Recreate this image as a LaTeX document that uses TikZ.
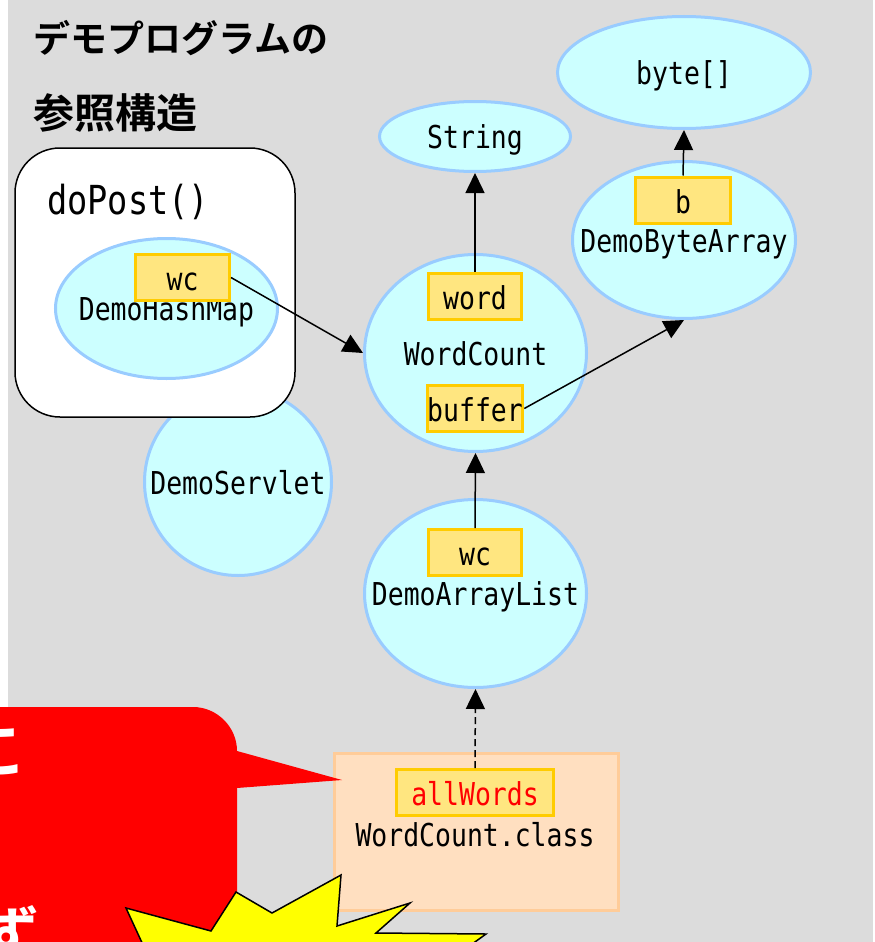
\documentclass[tikz,border=0pt]{standalone}
\usepackage{fontspec}
\setmainfont{DejaVu Sans Mono}[FakeStretch=0.84]
\newfontfamily\jpbold{Noto Sans CJK JP Bold}
\usetikzlibrary{shapes.geometric,arrows.meta}

\definecolor{bggray}{RGB}{220,220,220}
\definecolor{objfill}{RGB}{204,255,255}
\definecolor{objline}{RGB}{153,204,255}
\definecolor{fieldfill}{RGB}{255,230,128}
\definecolor{fieldline}{RGB}{255,204,0}
\definecolor{classfill}{RGB}{255,223,192}
\definecolor{classline}{RGB}{255,204,153}
\definecolor{alertred}{RGB}{255,0,0}
\definecolor{burst}{RGB}{255,255,0}

\tikzset{
  obj/.style={ellipse, draw=objline, fill=objfill, line width=3pt, inner sep=0pt},
  objtext/.style={inner sep=0pt, text height=24pt, text depth=0pt,
    font=\fontsize{31.5}{36}\selectfont},
  field/.style={rectangle, draw=fieldline, fill=fieldfill, line width=3pt,
    inner sep=0pt, minimum height=46pt, text height=26pt, text depth=0pt,
    font=\fontsize{31.5}{36}\selectfont},
  ref/.style={line width=1.5pt, -{Triangle[length=20pt,width=19pt]}},
  jptitle/.style={inner sep=0pt, anchor=west},
}

\begin{document}
\begin{tikzpicture}[x=1pt,y=-1pt]
\useasboundingbox (0,0) rectangle (875,942);
% page background
\fill[white] (0,0) rectangle (875,942);
\fill[bggray] (8,0) rectangle (873,942);

% title
\node[jptitle, font=\jpbold\fontsize{37}{40}\selectfont] (title1) at (33,38.5) {デモプログラムの};
\node[jptitle, font=\jpbold\fontsize{41}{44}\selectfont] (title2) at (33,113.5) {参照構造};

% objects
\node[obj, circle, minimum size=187pt] (servlet) at (238,482) {};
\node[objtext] (servlet-t) at (servlet) {DemoServlet};

% doPost() frame
\node[draw, fill=white, line width=1.5pt, rounded corners=45pt,
      minimum width=280pt, minimum height=269pt] (dopost) at (155,282.5) {};
\node[inner sep=0pt, anchor=base west, font=\fontsize{40}{44}\selectfont] (dopost-t) at (47,214) {doPost()};

\node[obj, minimum width=222pt, minimum height=140pt] (hm) at (166.5,308.5) {};
\node[objtext] (hm-t) at (hm) {DemoHashMap};
\node[field, minimum width=94pt] (hmwc) at (182.5,277.5) {wc};

\node[obj, minimum width=191pt, minimum height=70pt] (str) at (475,136.5) {};
\node[objtext] (str-t) at (str) {String};

\node[obj, minimum width=253pt, minimum height=112pt] (bytes) at (684,72.5) {};
\node[objtext] (bytes-t) at (bytes) {byte[]};

\node[obj, minimum width=223pt, minimum height=157pt] (dba) at (684,240) {};
\node[objtext] (dba-t) at (dba) {DemoByteArray};
\node[field, minimum width=95pt] (b) at (683,200) {b};

\node[obj, minimum width=222pt, minimum height=197pt] (wcnt) at (475.5,353) {};
\node[objtext] (wcnt-t) at (wcnt) {WordCount};
\node[field, minimum width=93pt] (word) at (475,296) {word};
\node[field, minimum width=93pt] (buffer) at (475,408.5) {buffer};

\node[obj, minimum width=222pt, minimum height=188pt] (dal) at (475.5,593.5) {};
\node[objtext] (dal-t) at (dal) {DemoArrayList};
\node[field, minimum width=93pt] (dalwc) at (475,552.5) {wc};

% class object
\node[draw=classline, fill=classfill, line width=3pt, inner sep=0pt,
      minimum width=284pt, minimum height=157pt] (cls) at (476.5,832) {};
\node[objtext, text height=26pt] (cls-t) at (475,833) {WordCount.class};
\node[field, minimum width=157pt, text=alertred] (allw) at (475,792.5) {allWords};

% references
\draw[ref] (hmwc.east) -- (wcnt.west);
\draw[ref] (word.north) -- (str.south);
\draw[ref] (buffer.east) -- (dba.south);
\draw[ref] (b.north) -- (bytes.south);
\draw[ref] (dalwc.north) -- (wcnt.south);
\draw[ref, dash pattern=on 7pt off 4pt] (allw.north) -- (dal.south);

% callout
\fill[alertred] (-30,707) -- (193,707) .. controls (217,707) and (237,727) .. (237,751)
  -- (342,780) -- (237,788) -- (237,960) -- (-30,960) -- cycle;
\node[inner sep=0pt, anchor=east, text=white, font=\jpbold\fontsize{60}{64}\selectfont] (note1) at (28,752) {こ};
\node[inner sep=0pt, anchor=north east, text=white, font=\jpbold\fontsize{60}{64}\selectfont] (note2) at (40,905) {ず};

% burst
\filldraw[fill=burst, draw=black, line width=1.5pt]
  (150,960) -- (126,908) -- (211,931) -- (236,892) -- (272,913) -- (341,875)
  -- (337,926) -- (410,903) -- (376,933) -- (486,934) -- (450,960) -- cycle;
\end{tikzpicture}
\end{document}
